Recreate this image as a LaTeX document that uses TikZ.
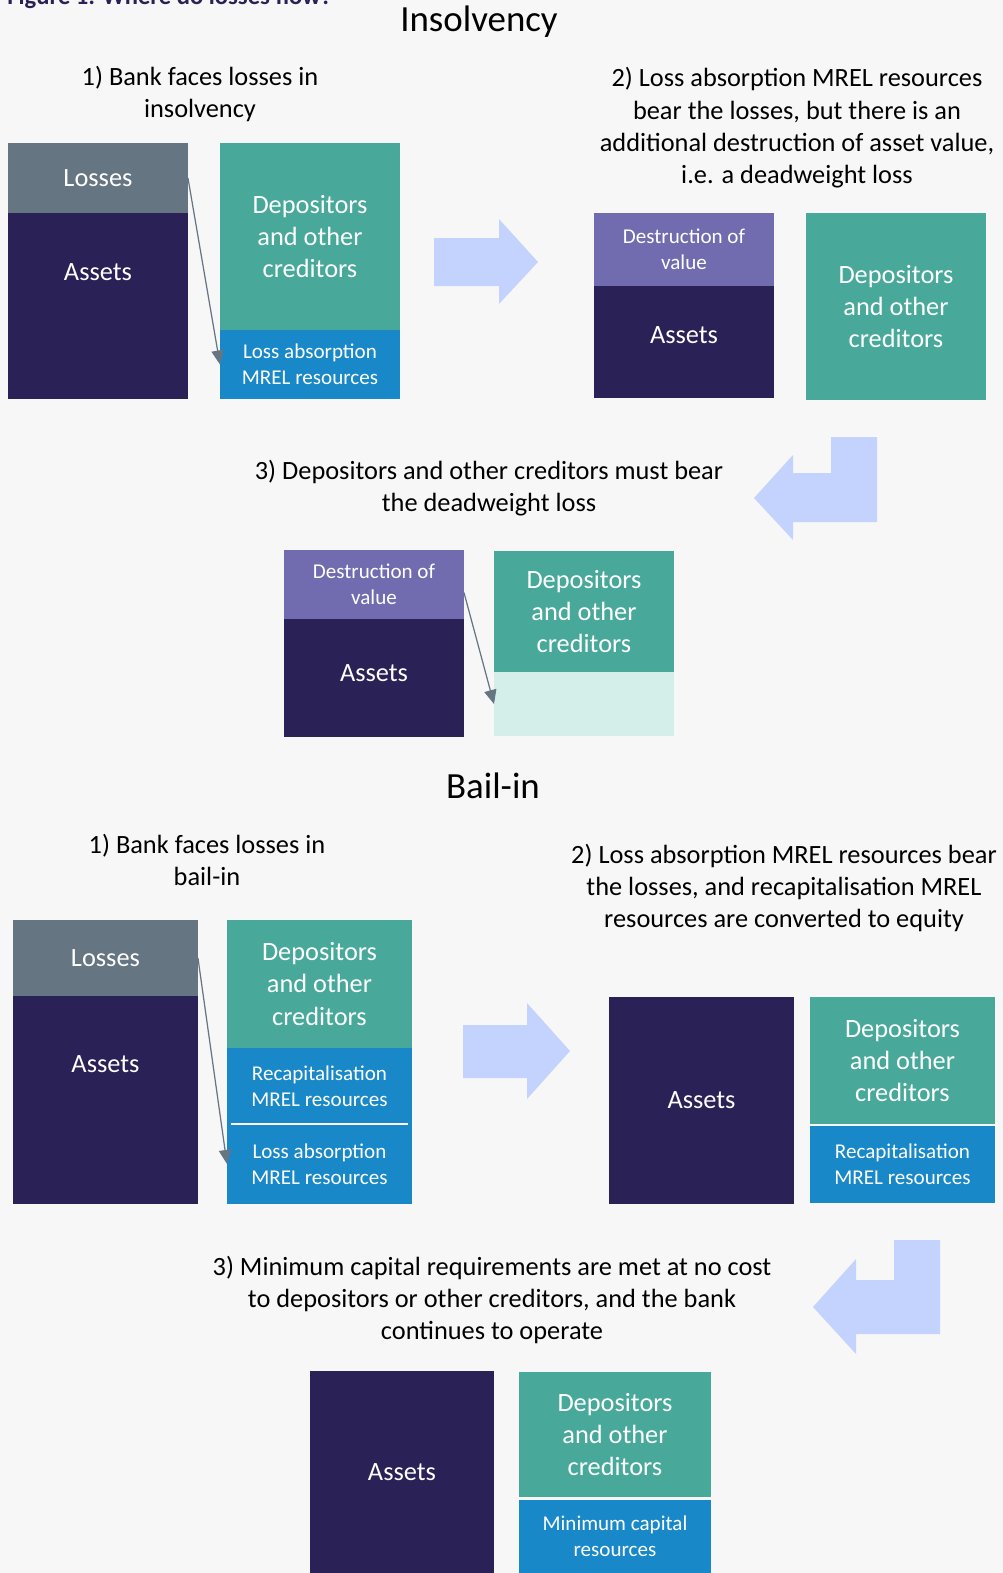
\documentclass[tikz,border=0pt]{standalone}
\usepackage{fontspec}
\setmainfont{Carlito}
\usepackage{tikz}
\usetikzlibrary{arrows.meta, positioning}
\definecolor{grayLosses}{RGB}{101, 117, 130}
\definecolor{navyAssets}{RGB}{42, 33, 86}
\definecolor{tealCreditors}{RGB}{72, 169, 154}
\definecolor{blueMrel}{RGB}{24, 136, 201}
\definecolor{purpleDestruction}{RGB}{112, 108, 175}
\definecolor{paleTeal}{RGB}{212, 238, 233}
\definecolor{blueArrow}{RGB}{195, 211, 253}
\definecolor{bgGray}{RGB}{247, 247, 247}

\begin{document}
\begin{tikzpicture}[x=0.02cm, y=-0.02cm,
            caja/.style={rectangle, inner sep=0pt, outer sep=0pt, anchor=north west, minimum width=3.6cm, align=center, text=white, font=\fontsize{15}{18.4}\selectfont},
            losses/.style={caja, fill=grayLosses},
            assets/.style={caja, fill=navyAssets},
            creditors/.style={caja, fill=tealCreditors},
            mrel/.style={caja, fill=blueMrel, font=\fontsize{12}{14.7}\selectfont},
            destruction/.style={caja, fill=purpleDestruction, font=\fontsize{12}{14.7}\selectfont},
            pale/.style={caja, fill=paleTeal},
            leyenda/.style={align=center, inner sep=0pt, font=\fontsize{15}{18.4}\selectfont},
            titulo/.style={inner sep=0pt, font=\fontsize{21}{25}\selectfont},
            flujo/.style={-{Triangle[length=8pt, width=7pt]}, line width=0.7pt, grayLosses},
            bigarrow/.style={fill=blueArrow}]

            \fill[bgGray] (0,0) rectangle (1003,1573);
            \useasboundingbox (0,0) rectangle (1003,1573);

            \node[anchor=base west, inner sep=0pt, text=navyAssets, font=\fontsize{14}{17}\selectfont\bfseries] (fig) at (7,4) {Figure 1: Where do losses flow?};

            % insolvency
            \node[titulo] (tins) at (479,22) {Insolvency};
            \node[leyenda] (c1) at (200,94) {1) Bank faces losses in\\insolvency};
            \node[leyenda] (c2) at (797,128) {2) Loss absorption MREL resources\\bear the losses, but there is an\\additional destruction of asset value,\\i.e. a deadweight loss};
            \node[leyenda] (c3) at (489,488) {3) Depositors and other creditors must bear\\the deadweight loss};

            \node[losses, minimum height=1.4cm] (loss1) at (8,143) {Losses};
            \node[assets, minimum height=3.72cm, text depth=1.36cm] (assets1) at (8,213) {Assets};
            \node[creditors, minimum height=3.74cm] (cred1) at (220,143) {Depositors\\and other\\creditors};
            \node[mrel, minimum height=1.38cm] (lossabs1) at (220,330) {Loss absorption\\MREL resources};
            \draw[flujo] (loss1.east) -- (lossabs1.west);

            \fill[bigarrow] (434,238) -- (499,238) -- (499,219) -- (538,262) -- (499,304) -- (499,286) -- (434,286) -- cycle;

            \node[destruction, minimum height=1.46cm] (destr2) at (594,213) {Destruction of\\value};
            \node[assets, minimum height=2.24cm, text depth=0.28cm] (assets2) at (594,286) {Assets};
            \node[creditors, minimum height=3.74cm] (cred2) at (806,213) {Depositors\\and other\\creditors};

            \fill[bigarrow] (877,437) -- (877,522) -- (793,522) -- (793,540) -- (754,498) -- (793,455) -- (793,473) -- (831,473) -- (831,437) -- cycle;

            \node[destruction, minimum height=1.38cm] (destr3) at (284,550) {Destruction of\\value};
            \node[assets, minimum height=2.36cm, text depth=0.2cm] (assets3) at (284,619) {Assets};
            \node[creditors, minimum height=2.42cm] (cred3) at (494,551) {Depositors\\and other\\creditors};
            \node[pale, minimum height=1.28cm] (pale3) at (494,672) {};
            \draw[flujo] ([yshift=-0.16cm]destr3.east) -- (pale3.west);

            % bail-in
            \node[titulo] (tbail) at (493,786) {Bail-in};
            \node[leyenda] (c4) at (207,860) {1) Bank faces losses in\\bail-in};
            \node[leyenda] (c5) at (784,888) {2) Loss absorption MREL resources bear\\the losses, and recapitalisation MREL\\resources are converted to equity};
            \node[leyenda] (c6) at (492,1300) {3) Minimum capital requirements are met at no cost\\to depositors or other creditors, and the bank\\continues to operate};

            \node[losses, minimum width=3.7cm, minimum height=1.52cm] (loss4) at (13,920) {Losses};
            \node[assets, minimum width=3.7cm, minimum height=4.16cm, text depth=1.44cm] (assets4) at (13,996) {Assets};
            \node[creditors, minimum width=3.7cm, minimum height=2.56cm] (cred4) at (227,920) {Depositors\\and other\\creditors};
            \node[mrel, minimum width=3.7cm, minimum height=1.52cm] (recap4) at (227,1048) {Recapitalisation\\MREL resources};
            \node[mrel, minimum width=3.7cm, minimum height=1.6cm] (lossabs4) at (227,1124) {Loss absorption\\MREL resources};
            \draw[white, line width=1.2pt] ([xshift=2pt]recap4.south west) -- ([xshift=-2pt]recap4.south east);
            \draw[flujo] (loss4.east) -- (lossabs4.west);

            \fill[bigarrow] (463,1025) -- (527,1025) -- (527,1003) -- (570,1051) -- (527,1099) -- (527,1078) -- (463,1078) -- cycle;

            \node[assets, minimum width=3.7cm, minimum height=4.14cm] (assets5) at (609,997) {Assets};
            \node[creditors, minimum width=3.7cm, minimum height=2.54cm] (cred5) at (810,997) {Depositors\\and other\\creditors};
            \node[mrel, minimum width=3.7cm, minimum height=1.54cm] (recap5) at (810,1126) {Recapitalisation\\MREL resources};

            \fill[bigarrow] (940,1240) -- (940,1334) -- (856,1334) -- (856,1354) -- (813,1307) -- (856,1259) -- (856,1280) -- (894,1280) -- (894,1240) -- cycle;

            \node[assets, minimum width=3.68cm, minimum height=4.04cm] (assets6) at (310,1371) {Assets};
            \node[creditors, minimum width=3.84cm, minimum height=2.5cm] (cred6) at (519,1372) {Depositors\\and other\\creditors};
            \node[mrel, minimum width=3.84cm, minimum height=1.46cm] (mincap6) at (519,1500) {Minimum capital\\resources};
        \end{tikzpicture}
\end{document}
